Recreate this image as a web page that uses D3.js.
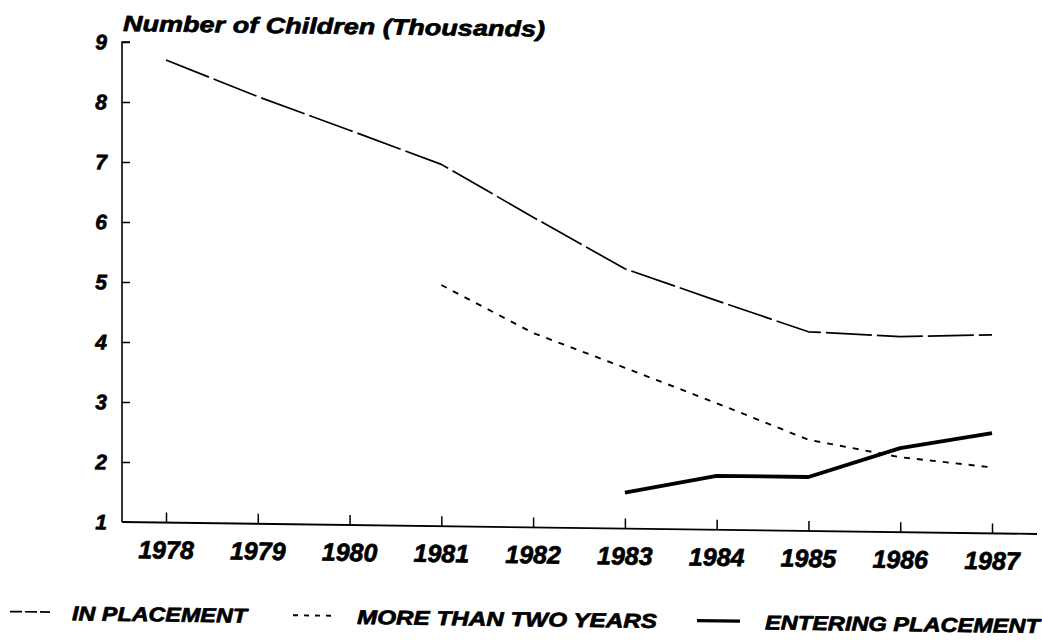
<!DOCTYPE html>
<html>
<head>
<meta charset="utf-8">
<script src="https://cdn.jsdelivr.net/npm/d3@7"></script>
<style>
  html, body { margin: 0; padding: 0; background: #fff; }
  svg { display: block; }
  text { font-family: "Liberation Sans", Arial, Helvetica, sans-serif; font-weight: bold; font-style: italic; fill: #000; stroke: #000; stroke-width: 0.7px; stroke-linejoin: round; }
</style>
</head>
<body>
<svg id="chart" width="1042" height="644"></svg>
<script>
// ---- data ----
const years = [1978, 1979, 1980, 1981, 1982, 1983, 1984, 1985, 1986, 1987];
const yTicks = [1, 2, 3, 4, 5, 6, 7, 8, 9];
const inPlacement = [
  {year: 1978, value: 8.71}, {year: 1979, value: 8.12}, {year: 1980, value: 7.58},
  {year: 1981, value: 7.03}, {year: 1982, value: 6.17}, {year: 1983, value: 5.33},
  {year: 1984, value: 4.82}, {year: 1985, value: 4.32}, {year: 1986, value: 4.26},
  {year: 1987, value: 4.31}
];
const moreThanTwoYears = [
  {year: 1981, value: 5.02}, {year: 1982, value: 4.24}, {year: 1983, value: 3.68},
  {year: 1984, value: 3.11}, {year: 1985, value: 2.52}, {year: 1986, value: 2.25},
  {year: 1987, value: 2.1}
];
const enteringPlacement = [
  {year: 1983, value: 1.6}, {year: 1984, value: 1.9}, {year: 1985, value: 1.9},
  {year: 1986, value: 2.4}, {year: 1987, value: 2.67}
];
const titleText = "Number of Children (Thousands)";
const legendLabels = ["IN PLACEMENT", "MORE THAN TWO YEARS", "ENTERING PLACEMENT"];

// ---- layout ----
const svg = d3.select("#chart");
const tilt = 0.75; // degrees (scanned page skew)
const pivotX = 122;
const root = svg.append("g")
  .attr("transform", `translate(0,${-pivotX * Math.tan(tilt * Math.PI / 180)}) skewY(${tilt})`);

const x = d3.scaleLinear().domain([1978, 1987]).range([166, 992]);
const y = d3.scaleLinear().domain([1, 9]).range([522, 42]);
const axisX0 = 122, axisX1 = 1037;

// title
root.append("text")
  .attr("x", 123).attr("y", 31)
  .attr("font-size", 22)
  .attr("textLength", 422).attr("lengthAdjust", "spacingAndGlyphs")
  .text(titleText);

// y axis
const yAxis = d3.axisRight(y).tickValues(yTicks).tickSize(8).tickFormat("");
const yg = root.append("g").attr("transform", `translate(${axisX0},0)`).call(yAxis);
yg.select(".domain").attr("d", `M8,${y(9)}H0V${y(1)}`).attr("stroke", "#000").attr("stroke-width", 1.6);
yg.selectAll(".tick line").attr("stroke", "#000").attr("stroke-width", 1.5);
yg.selectAll(".tick").filter(d => d === 1).select("line").remove();
root.selectAll(".ylab").data(yTicks).enter().append("text")
  .attr("class", "ylab")
  .attr("x", 107).attr("y", d => y(d) + 7.5)
  .attr("text-anchor", "end").attr("font-size", 21)
  .text(d => d);

// x axis
const xAxis = d3.axisTop(x).tickValues(years).tickSize(10).tickFormat("");
const xg = root.append("g").attr("transform", `translate(0,${y(1)})`).call(xAxis);
xg.select(".domain").attr("d", `M${axisX0},0H${axisX1}`).attr("stroke", "#000").attr("stroke-width", 1.8);
xg.selectAll(".tick line").attr("stroke", "#000").attr("stroke-width", 1.5);
root.selectAll(".xlab").data(years).enter().append("text")
  .attr("class", "xlab")
  .attr("x", d => x(d)).attr("y", 558)
  .attr("text-anchor", "middle").attr("font-size", 25)
  .text(d => d);

// lines
const line = d3.line().x(d => x(d.year)).y(d => y(d.value));
const series = [
  {data: inPlacement, dash: "46,5", width: 1.7},
  {data: moreThanTwoYears, dash: "6,7", width: 1.9},
  {data: enteringPlacement, dash: null, width: 3.8}
];
series.forEach(s => {
  root.append("path").datum(s.data)
    .attr("d", line)
    .attr("fill", "none").attr("stroke", "#000")
    .attr("stroke-width", s.width)
    .attr("stroke-dasharray", s.dash)
    .attr("stroke-linejoin", "round");
});

// legend
const legendItems = [
  {label: legendLabels[0], x1: 10, x2: 50, tx: 72, tw: 175, dash: "12,3", width: 1.7},
  {label: legendLabels[1], x1: 293, x2: 333, tx: 357, tw: 300, dash: "5,6", width: 1.9},
  {label: legendLabels[2], x1: 697, x2: 740, tx: 765, tw: 275, dash: null, width: 3.2}
];
const legendY = 613;
legendItems.forEach(it => {
  root.append("line")
    .attr("x1", it.x1).attr("x2", it.x2)
    .attr("y1", legendY).attr("y2", legendY)
    .attr("stroke", "#000").attr("stroke-width", it.width)
    .attr("stroke-dasharray", it.dash);
  root.append("text")
    .attr("x", it.tx).attr("y", legendY + 8)
    .attr("font-size", 20)
    .attr("textLength", it.tw).attr("lengthAdjust", "spacingAndGlyphs")
    .text(it.label);
});
</script>
</body>
</html>
